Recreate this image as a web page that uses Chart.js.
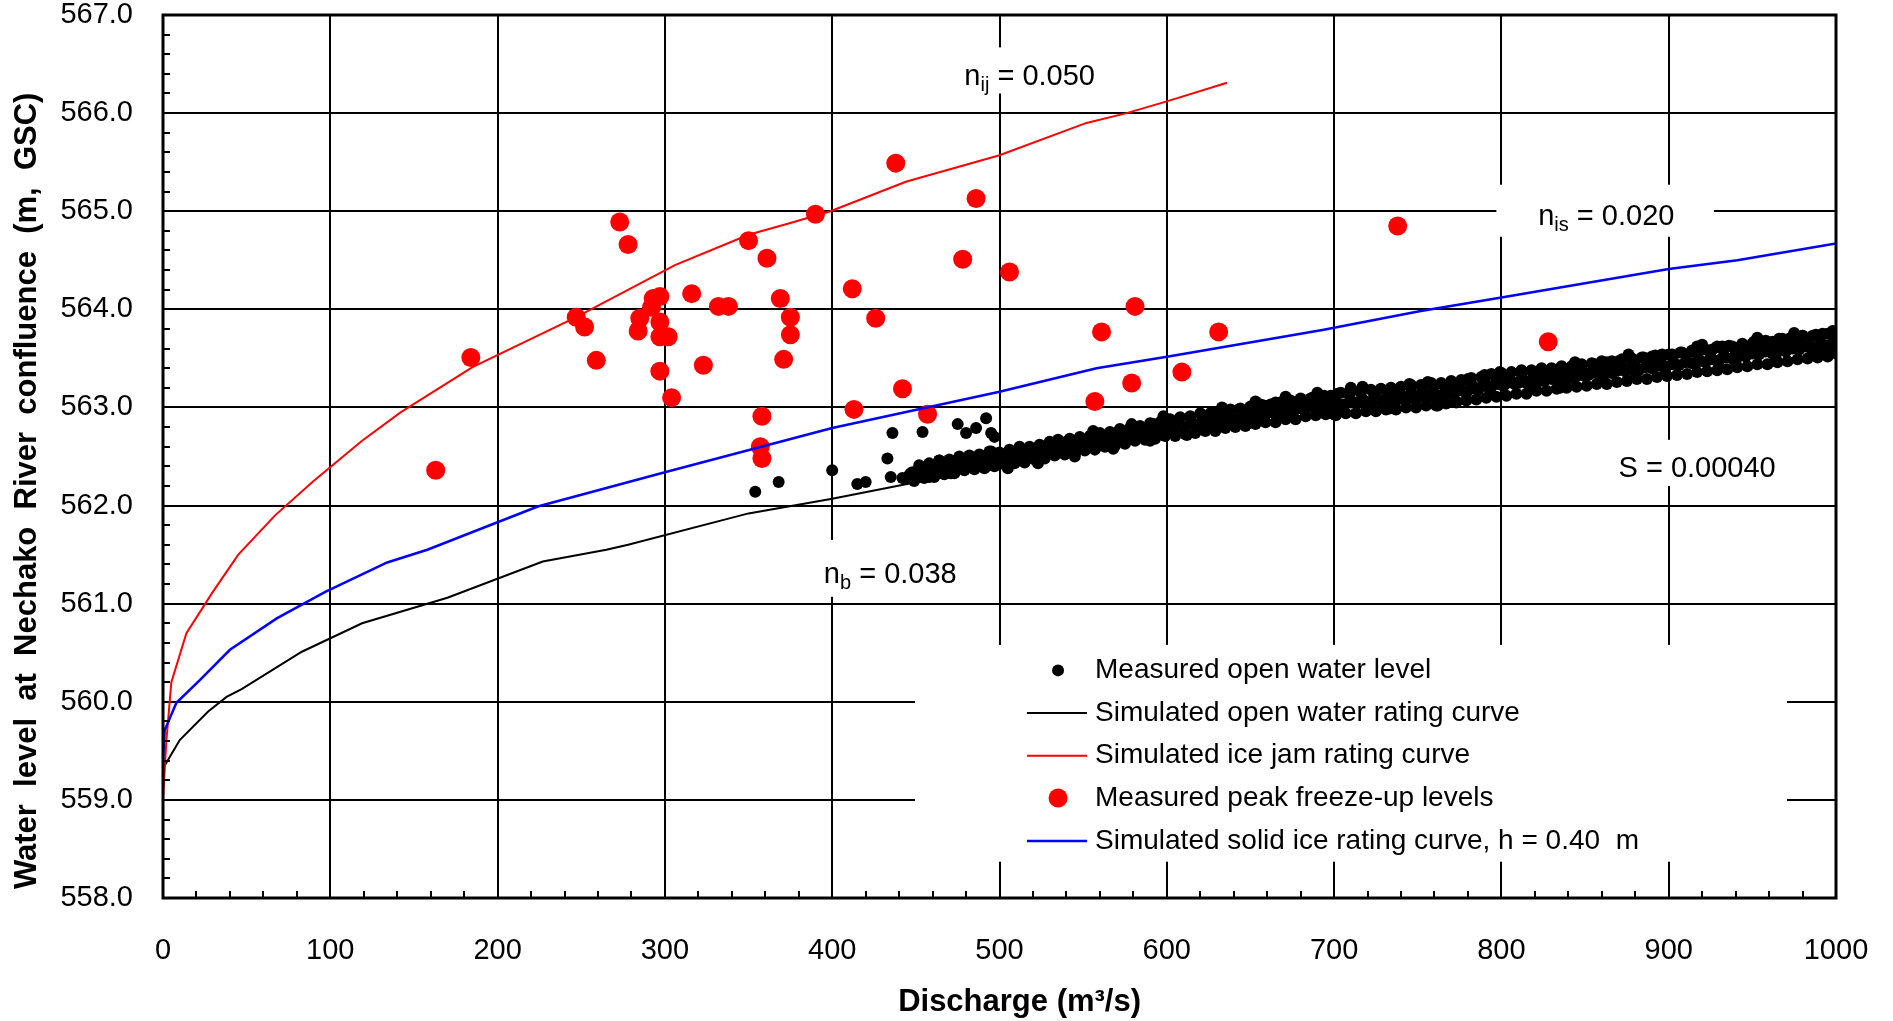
<!DOCTYPE html>
<html>
<head>
<meta charset="utf-8">
<title>Nechako River confluence rating curves</title>
<script src="https://cdn.jsdelivr.net/npm/chart.js@4.4.1/dist/chart.umd.min.js"></script>
<style>
  html, body { margin: 0; padding: 0; background: #fff; }
  #wrap { width: 1893px; height: 1021px; }
</style>
</head>
<body>
<div id="wrap"><canvas id="ratingChart"></canvas></div>
<script>
// ─── axis ticks ───
const dischargeTicks = [0, 100, 200, 300, 400, 500, 600, 700, 800, 900, 1000];
const levelTicks = [558, 559, 560, 561, 562, 563, 564, 565, 566, 567];

// ─── simulated rating curves [Q (m3/s), water level (m)] ───
const openWaterCurve = [
    [0, 559.32], [10, 559.61], [27, 559.90], [38, 560.05], [47, 560.13], [83, 560.51],
    [119, 560.80], [170, 561.06], [227, 561.43], [265, 561.55], [278, 561.60], [350, 561.92],
    [400, 562.07], [466, 562.29], [500, 562.42], [600, 562.80], [700, 563.05], [800, 563.28],
    [900, 563.50], [1000, 563.72]
];
const iceJamCurve = [
    [0, 559.00], [2, 559.60], [5, 560.20], [14, 560.70], [29, 561.10], [45, 561.50],
    [67, 561.90], [90, 562.25], [119, 562.66], [142, 562.95], [185, 563.41], [247, 563.92],
    [306, 564.45], [350, 564.76], [375, 564.88], [399, 565.00], [444, 565.30], [500, 565.57],
    [552, 565.90], [576, 566.00], [600, 566.12], [636, 566.31]
];
const solidIceCurve = [
    [0, 559.40], [1, 559.71], [8, 559.99], [22, 560.22], [40, 560.53], [68, 560.85],
    [97, 561.12], [134, 561.42], [158, 561.55], [224, 561.99], [300, 562.34], [400, 562.79],
    [500, 563.16], [558, 563.40], [601, 563.52], [693, 563.79], [751, 563.98], [800, 564.12],
    [900, 564.41], [941, 564.50], [1000, 564.67]
];

// ─── measured peak freeze-up levels ───
const peakFreezeUp = [
    [163, 562.36], [184, 563.51], [247, 563.92], [252, 563.82], [259, 563.48], [273, 564.89],
    [278, 564.66], [284, 563.78], [285, 563.91], [292, 564.02], [293, 564.11], [297, 564.13],
    [297, 563.87], [297, 563.72], [297, 563.37], [302, 563.72], [304, 563.10], [316, 564.16],
    [323, 563.43], [332, 564.03], [338, 564.03], [350, 564.70], [357, 562.60], [358, 562.91],
    [358, 562.48], [361, 564.52], [369, 564.11], [371, 563.49], [375, 563.92], [375, 563.74],
    [390, 564.97], [412, 564.21], [413, 562.98], [426, 563.91], [438, 565.49], [442, 563.19],
    [457, 562.93], [478, 564.51], [486, 565.13], [506, 564.38], [557, 563.06], [561, 563.77],
    [579, 563.25], [581, 564.03], [609, 563.36], [631, 563.77], [738, 564.85], [828, 563.67]
];

// ─── measured open water levels ───
const openWaterMeasured = [
    // scattered low-flow readings
    [354, 562.14], [368, 562.24], [400, 562.36], [415, 562.22], [420, 562.24], [433, 562.48],
    [436, 562.74], [435, 562.29], [442, 562.28], [448, 562.34], [453, 562.37], [454, 562.75],
    [464, 562.46], [471, 562.33], [475, 562.83], [476, 562.50], [480, 562.74], [485, 562.46],
    [486, 562.79], [492, 562.89], [495, 562.55], [495, 562.74], [497, 562.70],
    // main band
    [444, 562.27], [447, 562.33], [451, 562.30], [455, 562.36], [458, 562.29], [462, 562.38],
    [466, 562.33], [469, 562.41], [473, 562.35], [476, 562.44], [480, 562.38], [483, 562.46],
    [487, 562.40], [490, 562.48], [494, 562.41], [497, 562.52], [500, 562.44], [504, 562.50],
    [507, 562.45], [511, 562.55], [515, 562.49], [518, 562.57], [522, 562.51], [526, 562.60],
    [529, 562.53], [533, 562.62], [537, 562.56], [540, 562.65], [544, 562.58], [548, 562.66],
    [551, 562.61], [555, 562.70], [559, 562.62], [562, 562.71], [566, 562.65], [570, 562.74],
    [573, 562.68], [577, 562.77], [581, 562.70], [584, 562.80], [588, 562.72], [592, 562.83],
    [595, 562.75], [599, 562.85], [603, 562.77], [606, 562.86], [610, 562.79], [614, 562.90],
    [617, 562.82], [621, 562.91], [625, 562.84], [628, 562.94], [632, 562.86], [636, 562.96],
    [639, 562.87], [643, 562.98], [647, 562.90], [650, 563.01], [654, 562.92], [658, 563.02],
    [661, 562.95], [665, 563.05], [669, 562.96], [672, 563.06], [676, 562.99], [680, 563.09],
    [683, 563.00], [687, 563.10], [691, 563.02], [694, 563.12], [698, 563.04], [702, 563.14],
    [705, 563.00], [709, 563.13], [713, 563.05], [716, 563.15], [720, 563.02], [724, 563.12],
    [727, 563.07], [731, 563.17], [735, 563.05], [738, 563.16], [742, 563.09], [746, 563.20],
    [749, 563.08], [753, 563.18], [757, 563.11], [760, 563.22], [764, 563.10], [768, 563.21],
    [771, 563.14], [775, 563.25], [779, 563.15], [782, 563.24], [786, 563.18], [790, 563.29],
    [793, 563.19], [797, 563.30], [801, 563.22], [804, 563.31], [808, 563.24], [812, 563.34],
    [815, 563.25], [819, 563.35], [823, 563.27], [826, 563.37], [830, 563.29], [834, 563.39],
    [837, 563.30], [841, 563.40], [845, 563.32], [848, 563.42], [852, 563.33], [856, 563.44],
    [859, 563.36], [863, 563.46], [867, 563.37], [870, 563.47], [874, 563.39], [878, 563.50],
    [881, 563.40], [885, 563.51], [889, 563.42], [892, 563.53], [896, 563.44], [900, 563.54],
    [903, 563.46], [907, 563.56], [911, 563.47], [914, 563.58], [918, 563.49], [922, 563.59],
    [925, 563.51], [929, 563.62], [933, 563.53], [936, 563.63], [940, 563.55], [944, 563.65],
    [947, 563.56], [951, 563.67], [955, 563.58], [958, 563.68], [962, 563.60], [966, 563.70],
    [969, 563.61], [973, 563.71], [977, 563.63], [980, 563.73], [984, 563.64], [988, 563.74],
    [991, 563.66], [995, 563.75], [998, 563.62], [1000, 563.70],
    // middle of the band
    [446, 562.31], [450, 562.34], [454, 562.34], [458, 562.37], [462, 562.36], [466, 562.40],
    [470, 562.39], [474, 562.42], [478, 562.41], [482, 562.44], [486, 562.43], [490, 562.45],
    [494, 562.48], [498, 562.46], [502, 562.49], [506, 562.49], [510, 562.52], [514, 562.51],
    [518, 562.54], [522, 562.54], [526, 562.57], [530, 562.56], [534, 562.59], [538, 562.58],
    [542, 562.62], [546, 562.61], [550, 562.64], [554, 562.63], [558, 562.67], [562, 562.66],
    [566, 562.69], [570, 562.68], [574, 562.72], [578, 562.71], [582, 562.74], [586, 562.73],
    [590, 562.77], [594, 562.76], [598, 562.79], [602, 562.78], [606, 562.81], [610, 562.80],
    [614, 562.83], [618, 562.82], [622, 562.85], [626, 562.84], [630, 562.87], [634, 562.86],
    [638, 562.89], [642, 562.88], [646, 562.91], [650, 562.90], [654, 562.93], [658, 562.92],
    [662, 562.95], [666, 562.94], [670, 562.97], [674, 562.96], [678, 562.99], [682, 562.98],
    [686, 563.01], [690, 563.00], [694, 563.03], [698, 563.01], [702, 563.04], [706, 563.03],
    [710, 563.05], [714, 563.04], [718, 563.07], [722, 563.05], [726, 563.08], [730, 563.07],
    [734, 563.09], [738, 563.08], [742, 563.11], [746, 563.10], [750, 563.12], [754, 563.11],
    [758, 563.14], [762, 563.12], [766, 563.15], [770, 563.14], [774, 563.17], [778, 563.16],
    [782, 563.19], [786, 563.18], [790, 563.22], [794, 563.21], [798, 563.24], [802, 563.23],
    [806, 563.26], [810, 563.25], [814, 563.27], [818, 563.26], [822, 563.29], [826, 563.28],
    [830, 563.30], [834, 563.29], [838, 563.32], [842, 563.30], [846, 563.33], [850, 563.32],
    [854, 563.35], [858, 563.34], [862, 563.36], [866, 563.35], [870, 563.38], [874, 563.37],
    [878, 563.39], [882, 563.38], [886, 563.41], [890, 563.40], [894, 563.43], [898, 563.41],
    [902, 563.44], [906, 563.43], [910, 563.46], [914, 563.45], [918, 563.47], [922, 563.46],
    [926, 563.49], [930, 563.48], [934, 563.51], [938, 563.50], [942, 563.53], [946, 563.52],
    [950, 563.55], [954, 563.54], [958, 563.57], [962, 563.55], [966, 563.58], [970, 563.57],
    [974, 563.60], [978, 563.59], [982, 563.62], [986, 563.61], [990, 563.64], [994, 563.63],
    [998, 563.66],
    // upper edge of the band
    [452, 562.41], [458, 562.43], [464, 562.46], [470, 562.47], [476, 562.49], [482, 562.51],
    [488, 562.52], [494, 562.55], [500, 562.54], [506, 562.57], [512, 562.59], [518, 562.60],
    [524, 562.62], [530, 562.65], [536, 562.65], [542, 562.68], [548, 562.70], [554, 562.71],
    [560, 562.74], [566, 562.75], [572, 562.78], [578, 562.79], [584, 562.81], [590, 562.84],
    [596, 562.85], [602, 562.88], [608, 562.90], [614, 562.91], [620, 562.94], [626, 562.94],
    [632, 562.96], [638, 562.98], [644, 562.99], [650, 563.00], [656, 563.03], [662, 563.03],
    [668, 563.05], [674, 563.07], [680, 563.08], [686, 563.09], [692, 563.12], [698, 563.12],
    [704, 563.15], [710, 563.16], [716, 563.17], [722, 563.18], [728, 563.19], [734, 563.20],
    [740, 563.21], [746, 563.23], [752, 563.23], [758, 563.25], [764, 563.25], [770, 563.27],
    [776, 563.28], [782, 563.30], [788, 563.31], [794, 563.34], [800, 563.35], [806, 563.36],
    [812, 563.38], [818, 563.38], [824, 563.40], [830, 563.40], [836, 563.42], [842, 563.42],
    [848, 563.44], [854, 563.45], [860, 563.47], [866, 563.47], [872, 563.49], [878, 563.49],
    [884, 563.51], [890, 563.52], [896, 563.54], [902, 563.54], [908, 563.56], [914, 563.57],
    [920, 563.59], [926, 563.59], [932, 563.62], [938, 563.62], [944, 563.64], [950, 563.65],
    [956, 563.67], [962, 563.67], [968, 563.70], [974, 563.70], [980, 563.73], [986, 563.73],
    [992, 563.75], [998, 563.76],
    // lower edge of the band
    [449, 562.25], [455, 562.28], [461, 562.29], [467, 562.32], [473, 562.33], [479, 562.36],
    [485, 562.37], [491, 562.38], [497, 562.40], [503, 562.42], [509, 562.43], [515, 562.44],
    [521, 562.47], [527, 562.48], [533, 562.51], [539, 562.52], [545, 562.53], [551, 562.56],
    [557, 562.57], [563, 562.60], [569, 562.61], [575, 562.63], [581, 562.66], [587, 562.67],
    [593, 562.68], [599, 562.71], [605, 562.71], [611, 562.73], [617, 562.74], [623, 562.76],
    [629, 562.76], [635, 562.79], [641, 562.80], [647, 562.81], [653, 562.83], [659, 562.85],
    [665, 562.85], [671, 562.88], [677, 562.88], [683, 562.91], [689, 562.92], [695, 562.93],
    [701, 562.92], [707, 562.94], [713, 562.94], [719, 562.96], [725, 562.96], [731, 562.98],
    [737, 562.98], [743, 563.00], [749, 563.00], [755, 563.02], [761, 563.02], [767, 563.04],
    [773, 563.05], [779, 563.07], [785, 563.08], [791, 563.10], [797, 563.11], [803, 563.12],
    [809, 563.14], [815, 563.14], [821, 563.17], [827, 563.17], [833, 563.19], [839, 563.20],
    [845, 563.21], [851, 563.22], [857, 563.24], [863, 563.24], [869, 563.26], [875, 563.27],
    [881, 563.29], [887, 563.29], [893, 563.31], [899, 563.32], [905, 563.33], [911, 563.34],
    [917, 563.36], [923, 563.37], [929, 563.38], [935, 563.39], [941, 563.41], [947, 563.42],
    [953, 563.44], [959, 563.44], [965, 563.46], [971, 563.47], [977, 563.49], [983, 563.50],
    [989, 563.51], [995, 563.52], [1000, 563.55],
    // stray readings on the band edges
    [505, 562.38], [523, 562.43], [545, 562.50], [568, 562.58], [590, 562.66], [653, 563.06],
    [690, 563.15], [700, 562.93], [710, 563.20], [745, 563.24], [762, 563.02], [780, 563.29],
    [790, 563.33], [835, 563.20], [880, 563.32], [920, 563.64], [940, 563.47], [990, 563.55],
    [996, 563.58], [998, 563.78], [512, 562.60], [535, 562.67], [556, 562.76], [579, 562.83],
    [598, 562.91], [612, 562.72], [633, 563.00], [648, 562.83], [671, 563.11], [697, 562.96],
    [717, 563.21], [733, 562.99], [756, 563.26], [773, 563.06], [799, 563.36], [817, 563.18],
    [844, 563.46], [861, 563.27], [876, 563.54], [898, 563.35], [917, 563.62], [930, 563.42],
    [953, 563.71], [964, 563.50], [975, 563.76], [986, 563.55]
];

// ─── text labels placed in data units ───
const curveNotes = [
    { main: 'n', sub: 'ij', rest: ' = 0.050', q: 479, h: 566.29, box: [467, 566.67, 566, 566.2] },
    { main: 'n', sub: 'is', rest: ' = 0.020', q: 822, h: 564.86, box: [797, 565.27, 927, 564.74] },
    { main: 'S = 0.00040', sub: '', rest: '', q: 870, h: 562.29, box: [859, 562.67, 972, 562.2] },
    { main: 'n', sub: 'b', rest: ' = 0.038', q: 395, h: 561.21, box: [387, 561.65, 491, 561.07] }
];
const legendBox = [449.5, 560.58, 970.7, 558.37];
const legendRows = [560.32, 559.885, 559.45, 559.02, 558.58];

const xTitle = 'Discharge (m³/s)';
const yTitle = 'Water  level  at  Nechako  River  confluence  (m,  GSC)';

const FONT = '"Liberation Sans", Arial, sans-serif';

const toPts = (arr) => arr.map(([x, y]) => ({ x, y }));

// boxes, frame, minor ticks, notes, legend and axis titles
const decorPlugin = {
    id: 'decor',
    beforeDatasetsDraw(chart) {
        const { ctx, scales: { x, y } } = chart;
        ctx.save();
        ctx.fillStyle = '#fff';
        const boxes = curveNotes.map(n => n.box).concat([legendBox]);
        for (const [x0, y0, x1, y1] of boxes) {
            const px0 = x.getPixelForValue(x0), px1 = x.getPixelForValue(x1);
            const py0 = y.getPixelForValue(y0), py1 = y.getPixelForValue(y1);
            ctx.fillRect(px0, py0, px1 - px0, py1 - py0);
        }
        ctx.restore();
    },
    afterDatasetsDraw(chart) {
        const { ctx, chartArea: a, scales: { x, y } } = chart;
        ctx.save();
        ctx.strokeStyle = '#000';

        // minor ticks, pointing inward
        ctx.lineWidth = 2;
        ctx.beginPath();
        for (let q = 20; q < 1000; q += 20) {
            if (q % 100 === 0) continue;
            const px = Math.round(x.getPixelForValue(q));
            ctx.moveTo(px, a.bottom);
            ctx.lineTo(px, a.bottom - 7);
        }
        for (let k = 1; k < 45; k++) {
            if (k % 5 === 0) continue;
            const py = Math.round(y.getPixelForValue(558 + k * 0.2));
            ctx.moveTo(a.left, py);
            ctx.lineTo(a.left + 7, py);
        }
        ctx.stroke();

        // frame
        ctx.lineWidth = 3;
        ctx.strokeRect(a.left, a.top, a.right - a.left, a.bottom - a.top);

        // curve labels
        ctx.fillStyle = '#000';
        ctx.textBaseline = 'alphabetic';
        ctx.textAlign = 'left';
        for (const n of curveNotes) {
            let px = x.getPixelForValue(n.q);
            const py = y.getPixelForValue(n.h);
            ctx.font = '29px ' + FONT;
            ctx.fillText(n.main, px, py);
            px += ctx.measureText(n.main).width;
            if (n.sub) {
                ctx.font = '20px ' + FONT;
                ctx.fillText(n.sub, px, py + 6);
                px += ctx.measureText(n.sub).width;
            }
            if (n.rest) {
                ctx.font = '29px ' + FONT;
                ctx.fillText(n.rest, px, py);
            }
        }

        // legend
        const symX = x.getPixelForValue(535);
        const lineX0 = x.getPixelForValue(516.4), lineX1 = x.getPixelForValue(552.3);
        const textX = x.getPixelForValue(557.1);
        ctx.font = '28px ' + FONT;
        ctx.textBaseline = 'middle';
        chart.data.datasets.forEach((ds, i) => {
            const py = y.getPixelForValue(legendRows[i]);
            if (ds.showLine) {
                ctx.strokeStyle = ds.borderColor;
                ctx.lineWidth = ds.borderWidth;
                ctx.beginPath();
                ctx.moveTo(lineX0, py);
                ctx.lineTo(lineX1, py);
                ctx.stroke();
            } else {
                ctx.fillStyle = ds.backgroundColor;
                ctx.beginPath();
                ctx.arc(symX, py, ds.pointRadius, 0, Math.PI * 2);
                ctx.fill();
            }
            ctx.fillStyle = '#000';
            ctx.fillText(ds.label, textX, py);
        });

        // axis titles
        ctx.font = 'bold 31px ' + FONT;
        ctx.textAlign = 'center';
        ctx.fillText(xTitle, x.getPixelForValue(512), 1002);
        ctx.translate(27, y.getPixelForValue(562.15));
        ctx.rotate(-Math.PI / 2);
        ctx.fillText(yTitle, 0, 0);
        ctx.restore();
    }
};

// keep the plot frame fixed: no extra room for overhanging tick labels
function noLabelPadding(s) {
    s.paddingLeft = 0;
    s.paddingRight = 0;
    s.paddingTop = 0;
    s.paddingBottom = 0;
}

const axisTickFont = { family: FONT, size: 29 };

new Chart(document.getElementById('ratingChart'), {
    type: 'scatter',
    data: {
        datasets: [
            {
                label: 'Measured open water level',
                data: toPts(openWaterMeasured),
                backgroundColor: '#000',
                borderWidth: 0,
                pointRadius: 6,
                showLine: false,
                order: 3
            },
            {
                label: 'Simulated open water rating curve',
                data: toPts(openWaterCurve),
                borderColor: '#000',
                borderWidth: 2,
                pointRadius: 0,
                showLine: true,
                order: 4
            },
            {
                label: 'Simulated ice jam rating curve',
                data: toPts(iceJamCurve),
                borderColor: '#ff0000',
                borderWidth: 2,
                pointRadius: 0,
                showLine: true,
                order: 2
            },
            {
                label: 'Measured peak freeze-up levels',
                data: toPts(peakFreezeUp),
                backgroundColor: '#ff0000',
                borderWidth: 0,
                pointRadius: 9.5,
                showLine: false,
                order: 1
            },
            {
                label: 'Simulated solid ice rating curve, h = 0.40  m',
                data: toPts(solidIceCurve),
                borderColor: '#0000ff',
                borderWidth: 2.5,
                pointRadius: 0,
                showLine: true,
                order: 0
            }
        ]
    },
    options: {
        responsive: true,
        maintainAspectRatio: false,
        animation: false,
        devicePixelRatio: 1,
        layout: { padding: { top: 15, right: 57, left: 0, bottom: 0 } },
        plugins: {
            legend: { display: false },
            tooltip: { enabled: false }
        },
        scales: {
            x: {
                type: 'linear',
                min: 0,
                max: 1000,
                afterBuildTicks: (s) => { s.ticks = dischargeTicks.map(v => ({ value: v })); },
                afterFit: (s) => { s.height = 123; noLabelPadding(s); },
                grid: { color: '#000', lineWidth: 2, drawTicks: false },
                border: { display: false },
                ticks: { color: '#000', font: axisTickFont, padding: 36, autoSkip: false, maxRotation: 0, callback: (v) => String(v) }
            },
            y: {
                type: 'linear',
                min: 558,
                max: 567,
                afterBuildTicks: (s) => { s.ticks = levelTicks.map(v => ({ value: v })); },
                afterFit: (s) => { s.width = 163; noLabelPadding(s); },
                grid: { color: '#000', lineWidth: 2, drawTicks: false },
                border: { display: false },
                ticks: { color: '#000', font: axisTickFont, padding: 30, callback: (v) => Number(v).toFixed(1) }
            }
        }
    },
    plugins: [decorPlugin]
});
</script>
</body>
</html>
